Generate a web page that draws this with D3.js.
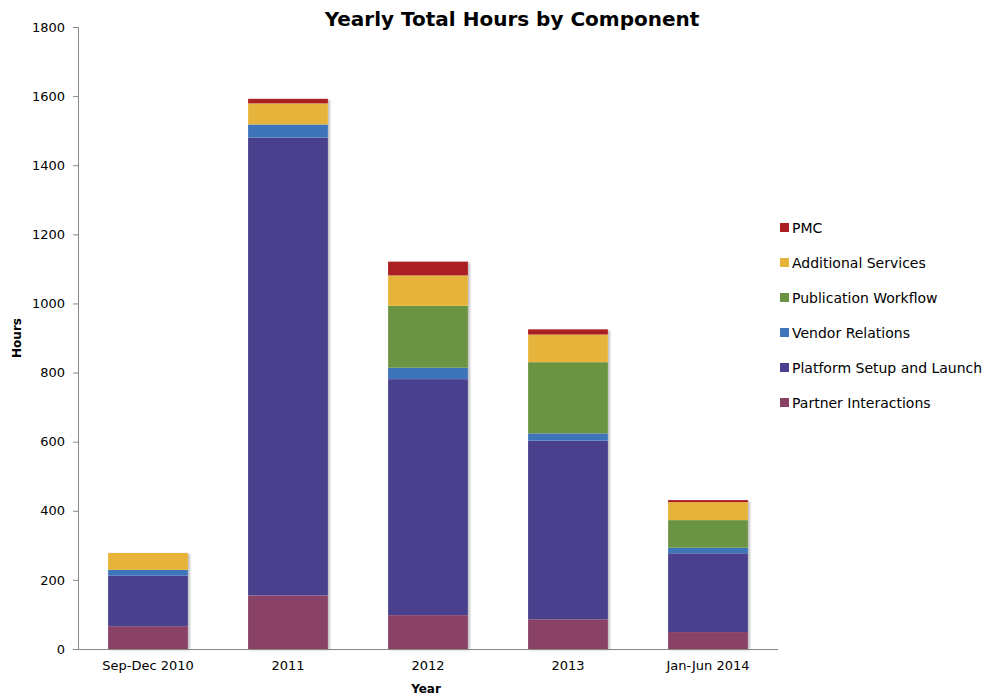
<!DOCTYPE html>
<html>
<head>
<meta charset="utf-8">
<script src="https://cdn.jsdelivr.net/npm/d3@7"></script>
<style>
  body { margin: 0; background: #fff; }
  text { font-family: "DejaVu Sans", sans-serif; fill: #000; }
</style>
</head>
<body>
<div id="graph"></div>
<script>
// data
const years = ["Sep-Dec 2010", "2011", "2012", "2013", "Jan-Jun 2014"];
const series = ["Partner Interactions", "Platform Setup and Launch", "Vendor Relations", "Publication Workflow", "Additional Services", "PMC"];
const partner = [66, 155, 98, 86, 49];
const platform = [146, 1325, 683, 517, 228];
const vendor = [17, 38, 33, 21, 16];
const publication = [0, 0, 179, 206, 80];
const additional = [49, 61, 88, 80, 52];
const pmc = [0, 13, 40, 15, 6];
const yTicks = [0, 200, 400, 600, 800, 1000, 1200, 1400, 1600, 1800];
const colors = ["#8a4166", "#4a418e", "#3e74b9", "#6a9441", "#e6b43a", "#aa1f22"];

const rows = years.map((y, i) => ({
  year: y,
  "Partner Interactions": partner[i],
  "Platform Setup and Launch": platform[i],
  "Vendor Relations": vendor[i],
  "Publication Workflow": publication[i],
  "Additional Services": additional[i],
  "PMC": pmc[i]
}));

const width = 990, height = 696;
const margin = { top: 27, right: 212, bottom: 47, left: 78 };

const svg = d3.select("#graph").append("svg")
  .attr("width", width)
  .attr("height", height);

const defs = svg.append("defs");
const f = defs.append("filter").attr("id", "shadow").attr("x", "-10%").attr("y", "-10%").attr("width", "130%").attr("height", "130%");
f.append("feDropShadow").attr("dx", 2).attr("dy", 1).attr("stdDeviation", 1.2).attr("flood-color", "#000").attr("flood-opacity", 0.25);

const x = d3.scaleBand()
  .domain(years)
  .range([margin.left, width - margin.right])
  .paddingInner(0.43)
  .paddingOuter(0.215);

const y = d3.scaleLinear()
  .domain([0, 1800])
  .range([height - margin.bottom, margin.top]);

const stack = d3.stack().keys(series)(rows);
const color = d3.scaleOrdinal().domain(series).range(colors);

// bars (white backing rect carries the soft shadow)
const barG = svg.append("g");
years.forEach((yr, i) => {
  const top = stack[stack.length - 1][i][1];
  barG.append("rect")
    .attr("x", x(yr))
    .attr("y", y(top))
    .attr("width", x.bandwidth())
    .attr("height", y(0) - y(top))
    .attr("fill", "#fff")
    .attr("filter", "url(#shadow)");
});

barG.selectAll("g.layer")
  .data(stack)
  .enter().append("g")
  .attr("class", "layer")
  .attr("fill", d => color(d.key))
  .selectAll("rect")
  .data(d => d)
  .enter().append("rect")
  .attr("x", d => x(d.data.year))
  .attr("y", d => y(d[1]))
  .attr("width", x.bandwidth())
  .attr("height", d => y(d[0]) - y(d[1]));

// axes
const yAxis = svg.append("g")
  .attr("transform", `translate(${margin.left},0)`)
  .call(d3.axisLeft(y).tickValues(yTicks).tickSize(5).tickPadding(8).tickFormat(d3.format("d")));
yAxis.selectAll("path, line").attr("stroke", "#868686");
yAxis.selectAll("text").style("font-size", "13px");

const xAxis = svg.append("g")
  .attr("transform", `translate(0,${height - margin.bottom})`)
  .call(d3.axisBottom(x).tickSize(0).tickPadding(12));
xAxis.select("path").attr("stroke", "#868686").attr("d", `M${margin.left},0.5H${width - margin.right}`);
xAxis.selectAll("text").style("font-size", "13px");

// titles
svg.append("text")
  .attr("x", 512)
  .attr("y", 26)
  .attr("text-anchor", "middle")
  .style("font-size", "20px")
  .style("font-weight", "bold")
  .text("Yearly Total Hours by Component");

svg.append("text")
  .attr("transform", "translate(21,338) rotate(-90)")
  .attr("text-anchor", "middle")
  .style("font-size", "12px")
  .style("font-weight", "bold")
  .text("Hours");

svg.append("text")
  .attr("x", 426)
  .attr("y", 693)
  .attr("text-anchor", "middle")
  .style("font-size", "12px")
  .style("font-weight", "bold")
  .text("Year");

// legend, PMC on top
const legend = svg.append("g").attr("transform", "translate(780,228)");
series.slice().reverse().forEach((s, i) => {
  const g = legend.append("g").attr("transform", `translate(0,${i * 35})`);
  g.append("rect").attr("x", 0).attr("y", -5).attr("width", 9).attr("height", 9).attr("fill", color(s));
  g.append("text").attr("x", 12).attr("y", 5).style("font-size", "14px").text(s);
});
</script>
</body>
</html>
